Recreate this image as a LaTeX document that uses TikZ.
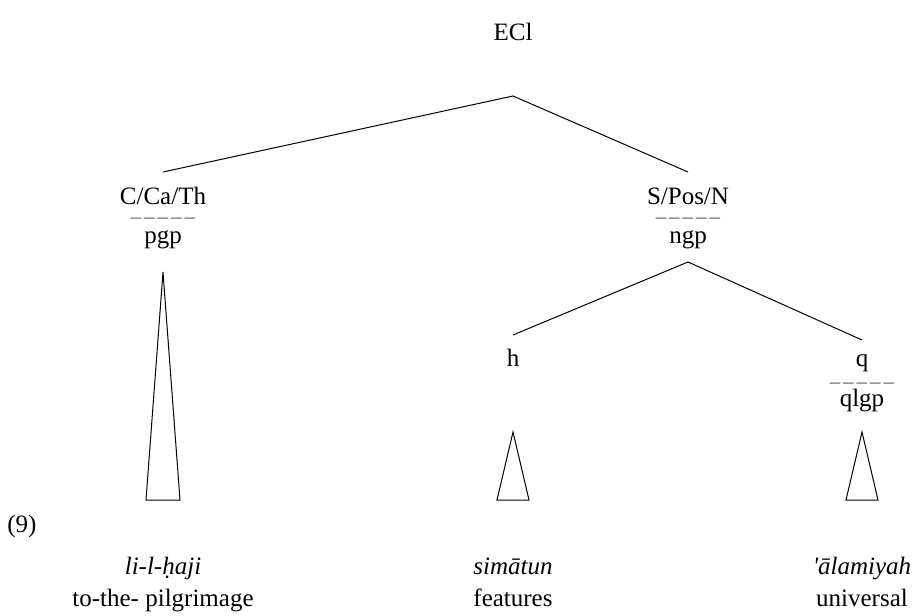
\documentclass[tikz,border=0pt]{standalone}
\usepackage{fontspec}
\setmainfont{Liberation Serif}
% a row of five separated dashes used as the fraction bar of a category
\newcommand{\dashrow}{–\kern3pt–\kern3pt–\kern3pt–\kern3pt–}
\begin{document}
\begin{tikzpicture}[x=1pt,y=-1pt,
  lbl/.style={anchor=base,inner sep=0pt,font=\fontsize{25}{28}\selectfont},
  bar/.style={anchor=base,inner sep=0pt,font=\fontsize{21}{24}\selectfont,text=black!65},
  branch/.style={line width=1pt},
  tri/.style={line width=1pt}]
\useasboundingbox (0,0) rectangle (916,616);
% root
\node[lbl] (ecl) at (513,40) {ECl};
\coordinate (ecltop) at (513,96);
% first level
\node[lbl] (cth) at (163,204) {C/Ca/Th};
\node[bar] (cbar) at (163,223) {\dashrow};
\node[lbl] (pgp) at (163,243) {pgp};
\coordinate (cthtop) at (163,172);
\node[lbl] (spn) at (688,204) {S/Pos/N};
\node[bar] (sbar) at (688,223) {\dashrow};
\node[lbl] (ngp) at (688,243) {ngp};
\coordinate (spntop) at (688,172);
\coordinate (ngpbot) at (688,262);
% second level
\node[lbl] (h) at (513,366) {h};
\coordinate (htop) at (513,335);
\node[lbl] (q) at (862,366) {q};
\node[bar] (qbar) at (862,388) {\dashrow};
\node[lbl] (qlgp) at (862,406) {qlgp};
\coordinate (qtop) at (862,340);
% branches
\draw[branch] (cthtop) -- (ecltop) -- (spntop);
\draw[branch] (htop) -- (ngpbot) -- (qtop);
% triangles
\coordinate (t1) at (163,272);
\draw[tri] (t1) -- (180,500) -- (146,500) -- cycle;
\coordinate (t2) at (513,432);
\draw[tri] (t2) -- (529,500) -- (497,500) -- cycle;
\coordinate (t3) at (862,432);
\draw[tri] (t3) -- (878,500) -- (846,500) -- cycle;
% example number and words
\node[lbl] (num) at (22,532) {(9)};
\node[lbl] (w1) at (163,574) {\itshape li-l-ḥaji};
\node[lbl] (g1) at (163,606) {to-the- pilgrimage};
\node[lbl] (w2) at (513,574) {\itshape simātun};
\node[lbl] (g2) at (513,606) {features};
\node[lbl] (w3) at (862,574) {\itshape \textquotesingle ālamiyah};
\node[lbl] (g3) at (862,606) {universal};
\end{tikzpicture}
\end{document}
